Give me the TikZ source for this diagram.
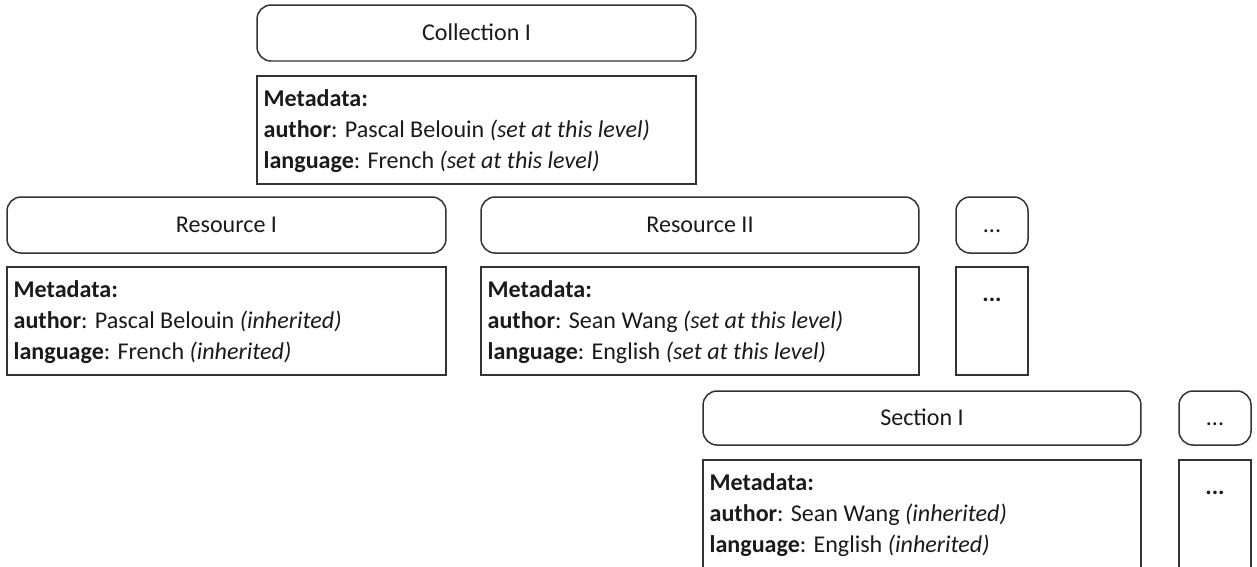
\documentclass[tikz,border=0pt]{standalone}
\usepackage{fontspec}
\setmainfont{Carlito}
\usetikzlibrary{calc}
\definecolor{edge}{HTML}{333333}
\definecolor{ink}{HTML}{1A1A1A}
\tikzset{
  rbox/.style={draw=edge, line width=0.85pt, rounded corners=0.28cm, inner sep=0pt,
    minimum height=1.12cm, text=ink, font=\fontsize{13.7pt}{17.5pt}\selectfont,
    text height=0.98em, text depth=0.1em},
  mbox/.style={draw=edge, line width=0.85pt, inner sep=0pt, minimum height=2.16cm},
  mtext/.style={anchor=north west, inner sep=0pt, align=left, text=ink,
    font=\fontsize{13.7pt}{17.5pt}\selectfont},
  dtext/.style={anchor=north, inner sep=0pt, text=ink,
    font=\fontsize{13.7pt}{17.5pt}\selectfont\bfseries}
}
\begin{document}
\begin{tikzpicture}[x=0.02cm,y=-0.02cm]
\clip (0,0) rectangle (1257,566);
\useasboundingbox (0,0) rectangle (1257,566);
% Collection
\node[rbox, minimum width=8.78cm] (coll) at (476.5,33) {Collection I};
\node[mbox, minimum width=8.78cm] (collm) at (476.5,130) {};
\node[mtext] (collt) at ($(collm.north west)+(7,14)$)
  {\textbf{Metadata:}\\\textbf{author}: Pascal Belouin \textit{(set at this level)}\\\textbf{language}: French \textit{(set at this level)}};
% Resource I
\node[rbox, minimum width=8.78cm] (res1) at (226.5,225) {Resource I};
\node[mbox, minimum width=8.78cm] (res1m) at (226.5,321) {};
\node[mtext] (res1t) at ($(res1m.north west)+(7,14)$)
  {\textbf{Metadata:}\\\textbf{author}: Pascal Belouin \textit{(inherited)}\\\textbf{language}: French \textit{(inherited)}};
% Resource II
\node[rbox, minimum width=8.76cm] (res2) at (700,225) {Resource II};
\node[mbox, minimum width=8.76cm] (res2m) at (700,321) {};
\node[mtext] (res2t) at ($(res2m.north west)+(7,14)$)
  {\textbf{Metadata:}\\\textbf{author}: Sean Wang \textit{(set at this level)}\\\textbf{language}: English \textit{(set at this level)}};
% dots 1
\node[rbox, minimum width=1.44cm] (dots1) at (992,225) {...};
\node[mbox, minimum width=1.44cm] (dots1m) at (992,321) {};
\node[dtext] (dots1t) at ($(dots1m.north)+(0,31)$) {...};
% Section I
\node[rbox, minimum width=8.76cm, minimum height=1.08cm] (sec1) at (922,418) {Section I};
\node[mbox, minimum width=8.76cm, minimum height=2.8cm] (sec1m) at (922,530) {};
\node[mtext] (sec1t) at ($(sec1m.north west)+(7,14)$)
  {\textbf{Metadata:}\\\textbf{author}: Sean Wang \textit{(inherited)}\\\textbf{language}: English \textit{(inherited)}};
% dots 2
\node[rbox, minimum width=1.44cm, minimum height=1.08cm] (dots2) at (1215,418) {...};
\node[mbox, minimum width=1.44cm, minimum height=2.8cm] (dots2m) at (1215,530) {};
\node[dtext] (dots2t) at ($(dots2m.north)+(0,31)$) {...};
\end{tikzpicture}
\end{document}
